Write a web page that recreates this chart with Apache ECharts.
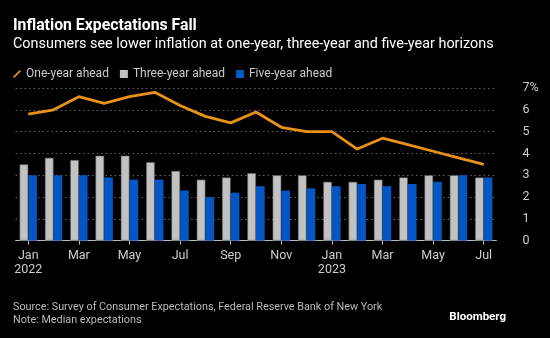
<!DOCTYPE html>
<html>
<head>
<meta charset="utf-8">
<script src="https://cdn.jsdelivr.net/npm/echarts@6/dist/echarts.min.js"></script>
<style>
  html, body { margin: 0; padding: 0; background: #000; }
  #chart { width: 550px; height: 338px; }
</style>
</head>
<body>
<div id="chart"></div>
<script>
// Monthly survey readings, Jan 2022 – Jul 2023 (percent)
const months = ['Jan\n2022', 'Feb', 'Mar', 'Apr', 'May', 'Jun', 'Jul', 'Aug', 'Sep', 'Oct', 'Nov', 'Dec',
                'Jan\n2023', 'Feb', 'Mar', 'Apr', 'May', 'Jun', 'Jul'];
const oneYear   = [5.8, 6.0, 6.6, 6.3, 6.6, 6.8, 6.2, 5.7, 5.4, 5.9, 5.2, 5.0, 5.0, 4.2, 4.7, 4.4, 4.1, 3.8, 3.5];
const threeYear = [3.5, 3.8, 3.7, 3.9, 3.9, 3.6, 3.2, 2.8, 2.9, 3.1, 3.0, 3.0, 2.7, 2.7, 2.8, 2.9, 3.0, 3.0, 2.9];
const fiveYear  = [3.0, 3.0, 3.0, 2.9, 2.8, 2.8, 2.3, 2.0, 2.2, 2.5, 2.3, 2.4, 2.5, 2.6, 2.5, 2.6, 2.7, 3.0, 2.9];
const yTicks = [0, 1, 2, 3, 4, 5, 6, 7];

const FONT = 'Roboto, "Noto Sans", sans-serif';
const ORANGE = '#e8921c', GREY = '#c2c2c2', BLUE = '#0456c4';
const chart = echarts.init(document.getElementById('chart'), null, { renderer: 'canvas' });

chart.setOption({
  backgroundColor: '#000',
  animation: false,
  textStyle: { fontFamily: FONT },
  title: {
    text: 'Inflation Expectations Fall',
    subtext: 'Consumers see lower inflation at one-year, three-year and five-year horizons',
    left: 8,
    top: 13,
    itemGap: 3,
    textStyle: { color: '#fff', fontSize: 15.8, fontWeight: 'bold', fontFamily: FONT },
    subtextStyle: { color: '#fff', fontSize: 14.4, fontFamily: FONT }
  },
  legend: {
    left: 8,
    top: 63,
    itemWidth: 8,
    itemHeight: 8,
    itemGap: 11,
    textStyle: { color: '#ccc', fontSize: 12, fontFamily: FONT },
    data: [
      { name: 'One-year ahead', icon: 'path://M0,9 L8,1 L9.5,2.5 L1.5,10.5 Z', itemStyle: { color: ORANGE } },
      { name: 'Three-year ahead', icon: 'rect', itemStyle: { color: GREY, borderWidth: 0 } },
      { name: 'Five-year ahead', icon: 'rect', itemStyle: { color: BLUE } }
    ]
  },
  grid: { left: 15.6, right: 53.6, top: 88, bottom: 97.3 },
  xAxis: {
    type: 'category',
    data: months,
    axisLine: { lineStyle: { color: '#bbb', width: 1 } },
    axisTick: { show: true, interval: 1, alignWithLabel: true, length: 4, lineStyle: { color: '#bbb' } },
    axisLabel: {
      interval: 1,
      color: '#ccc',
      fontSize: 12.5,
      lineHeight: 14,
      margin: 8,
      fontFamily: FONT
    }
  },
  yAxis: {
    type: 'value',
    position: 'right',
    min: yTicks[0],
    max: yTicks[yTicks.length - 1],
    interval: 1,
    axisLine: { show: false },
    axisTick: { show: false },
    axisLabel: {
      color: '#ccc',
      fontSize: 12.5,
      margin: 26,
      align: 'left',
      fontFamily: FONT,
      formatter: v => v === 7 ? '7%' : String(v)
    },
    splitLine: { lineStyle: { color: '#666', type: [1.5, 3], width: 1 } }
  },
  series: [
    {
      name: 'Three-year ahead',
      type: 'bar',
      data: threeYear,
      barWidth: 8.7,
      barGap: '0%',
      itemStyle: { color: GREY, borderColor: '#555', borderWidth: 0.6 }
    },
    {
      name: 'Five-year ahead',
      type: 'bar',
      data: fiveYear,
      barWidth: 8.7,
      itemStyle: { color: BLUE }
    },
    {
      name: 'One-year ahead',
      type: 'line',
      data: oneYear,
      showSymbol: false,
      symbol: 'none',
      z: 5,
      lineStyle: { color: ORANGE, width: 2.8 },
      itemStyle: { color: ORANGE }
    }
  ],
  graphic: [
    {
      type: 'text', left: 13, top: 302,
      style: { text: 'Source: Survey of Consumer Expectations, Federal Reserve Bank of New York',
               fill: '#bbb', font: '10.8px ' + FONT }
    },
    {
      type: 'text', left: 13, top: 315,
      style: { text: 'Note: Median expectations', fill: '#bbb', font: '10.8px ' + FONT }
    },
    {
      type: 'text', right: 44, top: 311,
      style: { text: 'Bloomberg', fill: '#fff', font: 'bold 11.5px ' + FONT }
    }
  ]
});
</script>
</body>
</html>
